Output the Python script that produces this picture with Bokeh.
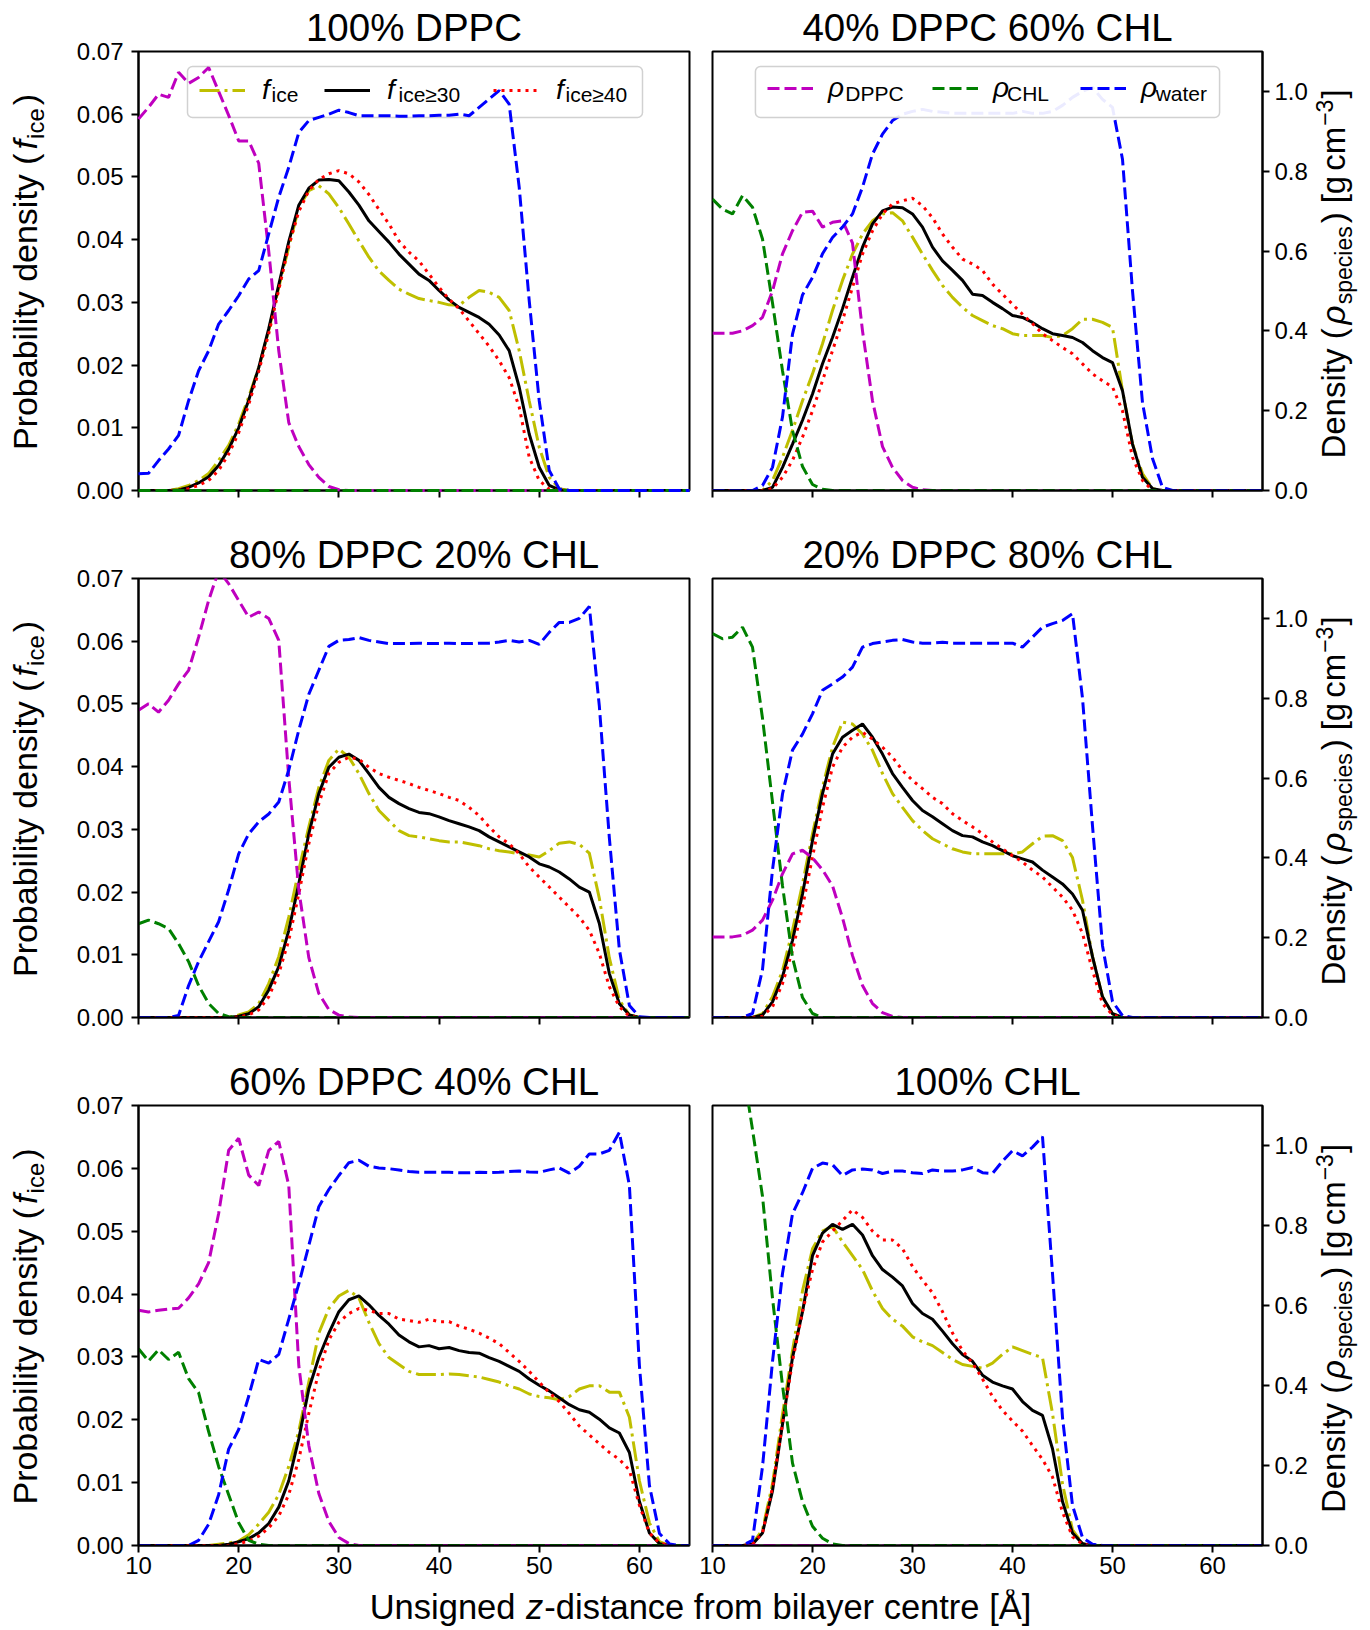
import math
from bokeh.plotting import figure
from bokeh.models import (Range1d, LinearAxis, FixedTicker, PrintfTickFormatter, Label,
                          BoxAnnotation, Legend, LegendItem, ColumnDataSource)
from bokeh.layouts import column, row
from bokeh.embed import file_html
from bokeh.resources import INLINE
from bokeh.core.properties import value

# ---------------------------------------------------------------- data
Z = list(range(10, 66))  # unsigned z-distance from bilayer centre [A]
X_TICKS = [10, 20, 30, 40, 50, 60]
F_TICKS = [0.0, 0.01, 0.02, 0.03, 0.04, 0.05, 0.06, 0.07]
RHO_TICKS = [0.0, 0.2, 0.4, 0.6, 0.8, 1.0]
TITLES = ["100% DPPC", "40% DPPC 60% CHL", "80% DPPC 20% CHL",
          "20% DPPC 80% CHL", "60% DPPC 40% CHL", "100% CHL"]

# ---- 100% DPPC
P1_FICE = [0, 0, 0, 0, .0003, .0008, .0016, .0027, .0048, .0072,
           .0106, .0149, .0196, .0255, .0324, .0388, .0451, .0478, .0486, .0473,
           .0451, .0425, .0398, .0372, .035, .0335, .0321, .0313, .0306, .0303,
           .03, .0296, .0295, .0308, .0319, .0316, .0308, .0287, .0223, .0143,
           .0069, .0021, .0003, 0, 0, 0, 0, 0, 0, 0,
           0, 0, 0, 0, 0, 0]
P1_F30 = [0, 0, 0, 0, .0001, .0005, .0012, .0022, .004, .0066,
          .01, .0144, .0196, .0258, .0328, .0397, .0455, .0482, .0495, .0496,
          .0494, .0476, .0455, .043, .0413, .0396, .0377, .0361, .0345, .0335,
          .0319, .0304, .0292, .0284, .0276, .0265, .0248, .0223, .0165, .009,
          .0037, .0008, .0001, 0, 0, 0, 0, 0, 0, 0,
          0, 0, 0, 0, 0, 0]
P1_F40 = [0, 0, 0, 0, 0, .0003, .0008, .0016, .0032, .0058,
          .0092, .0137, .019, .025, .032, .039, .0445, .0478, .0496, .0505,
          .051, .0505, .0492, .0472, .0448, .0425, .0398, .038, .0366, .0345,
          .0324, .0305, .029, .027, .025, .023, .0207, .018, .0133, .0053,
          .0016, .0002, 0, 0, 0, 0, 0, 0, 0, 0,
          0, 0, 0, 0, 0, 0]
P1_DPPC = [.931, .96, .993, .985, 1.048, 1.02, 1.035, 1.06, 1.0, .94,
           .876, .876, .82, .60, .35, .17, .11, .065, .033, .01,
           .002, 0, 0, 0, 0, 0, 0, 0, 0, 0,
           0, 0, 0, 0, 0, 0, 0, 0, 0, 0,
           0, 0, 0, 0, 0, 0, 0, 0, 0, 0,
           0, 0, 0, 0, 0, 0]
P1_CHL = [0, 0, 0, 0, 0, 0, 0, 0, 0, 0,
          0, 0, 0, 0, 0, 0, 0, 0, 0, 0,
          0, 0, 0, 0, 0, 0, 0, 0, 0, 0,
          0, 0, 0, 0, 0, 0, 0, 0, 0, 0,
          0, 0, 0, 0, 0, 0, 0, 0, 0, 0,
          0, 0, 0, 0, 0, 0]
P1_WATER = [.042, .043, .075, .104, .138, .225, .30, .35, .417, .451,
            .488, .53, .551, .643, .735, .81, .897, .927, .935, .943,
            .953, .947, .939, .939, .939, .939, .938, .938, .939, .939,
            .94, .94, .943, .939, .96, .981, 1.002, .968, .76, .476,
            .225, .05, .004, 0, 0, 0, 0, 0, 0, 0,
            0, 0, 0, 0, 0, 0]

# ---- 40% DPPC 60% CHL
P2_FICE = [0, 0, 0, 0, 0, 0, .0016, .0053, .0096, .0143,
           .0186, .0234, .0287, .0335, .0377, .0409, .043, .0441, .0443, .043,
           .0404, .0377, .0351, .0327, .0308, .0292, .0279, .0271, .0263, .0258,
           .025, .0247, .0247, .0247, .0244, .0247, .0258, .0273, .0273, .0268,
           .026, .0159, .0074, .0027, .0003, 0, 0, 0, 0, 0,
           0, 0, 0, 0, 0, 0]
P2_F30 = [0, 0, 0, 0, 0, 0, .0005, .0037, .0074, .0112,
          .0154, .0202, .0244, .029, .034, .0388, .0425, .0446, .0452, .0451,
          .0441, .042, .0388, .0366, .0351, .0335, .0313, .0311, .03, .029,
          .0279, .0276, .0268, .0258, .025, .0247, .0244, .0236, .0223, .0212,
          .0204, .0159, .0074, .0021, .0003, 0, 0, 0, 0, 0,
          0, 0, 0, 0, 0, 0]
P2_F40 = [0, 0, 0, 0, 0, 0, .0003, .0021, .0048, .0085,
          .0127, .0175, .0223, .0271, .0324, .0377, .0414, .0441, .0457, .0462,
          .0466, .0454, .0435, .0409, .0388, .0369, .0361, .0351, .0329, .0313,
          .0297, .0281, .0266, .025, .0239, .0228, .0218, .0202, .0186, .0175,
          .0165, .0127, .0053, .0016, 0, 0, 0, 0, 0, 0,
          0, 0, 0, 0, 0, 0]
P2_DPPC = [.394, .394, .394, .40, .413, .434, .50, .593, .651, .697,
           .70, .66, .672, .676, .62, .40, .225, .11, .058, .025,
           .008, .002, 0, 0, 0, 0, 0, 0, 0, 0,
           0, 0, 0, 0, 0, 0, 0, 0, 0, 0,
           0, 0, 0, 0, 0, 0, 0, 0, 0, 0,
           0, 0, 0, 0, 0, 0]
P2_CHL = [.73, .705, .693, .739, .71, .63, .47, .30, .15, .06,
          .015, .003, 0, 0, 0, 0, 0, 0, 0, 0,
          0, 0, 0, 0, 0, 0, 0, 0, 0, 0,
          0, 0, 0, 0, 0, 0, 0, 0, 0, 0,
          0, 0, 0, 0, 0, 0, 0, 0, 0, 0,
          0, 0, 0, 0, 0, 0]
P2_WATER = [0, 0, 0, 0, 0, .0125, .058, .184, .392, .49,
            .534, .593, .634, .66, .693, .76, .843, .893, .927, .943,
            .95, .955, .95, .948, .945, .945, .945, .945, .945, .945,
            .945, .95, .945, .945, .95, .965, .985, 1.0, 1.01, .98,
            .96, .83, .50, .22, .08, .008, 0, 0, 0, 0,
            0, 0, 0, 0, 0, 0]

# ---- 80% DPPC 20% CHL
P3_FICE = [0, 0, 0, 0, 0, 0, 0, 0, 0, 0,
           .0004, .0009, .0022, .0054, .0097, .016, .0235, .0304, .0367, .041,
           .0428, .0415, .0389, .0357, .033, .0314, .0298, .029, .0288, .0285,
           .0282, .028, .028, .0277, .0274, .0269, .0266, .0264, .0261, .0259,
           .0256, .0266, .0278, .028, .0276, .0262, .019, .0095, .0028, .0004,
           0, 0, 0, 0, 0, 0]
P3_F30 = [0, 0, 0, 0, 0, 0, 0, 0, 0, 0,
          .0002, .0006, .0017, .0044, .0081, .0139, .0213, .0293, .0357, .0399,
          .0415, .042, .041, .0389, .0367, .0351, .0341, .0333, .0327, .0325,
          .032, .0314, .0309, .0304, .0298, .0288, .028, .0272, .0264, .0256,
          .0245, .024, .0232, .0221, .0208, .02, .015, .007, .0022, .0004,
          0, 0, 0, 0, 0, 0]
P3_F40 = [0, 0, 0, 0, 0, 0, 0, 0, 0, 0,
          .0001, .0004, .0012, .0033, .007, .0123, .0197, .0277, .0341, .0389,
          .0407, .0415, .0412, .0399, .0389, .0383, .0378, .0373, .0367, .0362,
          .0357, .0351, .0346, .0335, .0322, .0304, .0288, .0277, .0261, .024,
          .0224, .0208, .0192, .0176, .016, .0139, .0102, .0049, .0017, .0002,
          0, 0, 0, 0, 0, 0]
P3_DPPC = [.77, .786, .765, .795, .836, .87, .953, 1.045, 1.12, 1.087,
           1.045, 1.003, 1.016, 1.0, .945, .60, .32, .15, .06, .02,
           .006, .001, 0, 0, 0, 0, 0, 0, 0, 0,
           0, 0, 0, 0, 0, 0, 0, 0, 0, 0,
           0, 0, 0, 0, 0, 0, 0, 0, 0, 0,
           0, 0, 0, 0, 0, 0]
P3_CHL = [.235, .244, .235, .223, .185, .14, .08, .035, .01, .002,
          0, 0, 0, 0, 0, 0, 0, 0, 0, 0,
          0, 0, 0, 0, 0, 0, 0, 0, 0, 0,
          0, 0, 0, 0, 0, 0, 0, 0, 0, 0,
          0, 0, 0, 0, 0, 0, 0, 0, 0, 0,
          0, 0, 0, 0, 0, 0]
P3_WATER = [0, 0, 0, 0, .005, .08, .14, .19, .24, .32,
            .41, .46, .49, .51, .54, .62, .72, .81, .87, .93,
            .945, .947, .952, .945, .941, .937, .937, .937, .938, .937,
            .937, .938, .937, .937, .938, .938, .941, .945, .941, .945,
            .935, .965, .99, .99, 1.0, 1.03, .78, .45, .17, .03,
            .002, 0, 0, 0, 0, 0]

# ---- 20% DPPC 80% CHL
P4_FICE = [0, 0, 0, 0, 0, .0006, .0033, .0075, .0139, .0213,
           .0293, .0367, .0431, .0471, .0468, .0452, .0426, .0389, .0357, .0335,
           .0314, .0298, .0285, .0277, .0269, .0264, .0261, .0261, .0261, .0261,
           .0261, .0264, .0277, .0289, .029, .0282, .0255, .0187, .0097, .0033,
           .0006, 0, 0, 0, 0, 0, 0, 0, 0, 0,
           0, 0, 0, 0, 0, 0]
P4_F30 = [0, 0, 0, 0, 0, .0004, .0025, .0065, .0123, .0197,
          .0282, .0357, .042, .0447, .0458, .0468, .0447, .042, .0389, .0367,
          .0346, .033, .032, .0309, .0298, .029, .0288, .028, .0274, .0266,
          .0258, .0253, .0248, .0235, .0224, .0213, .0197, .0171, .0097, .0033,
          .0006, 0, 0, 0, 0, 0, 0, 0, 0, 0,
          0, 0, 0, 0, 0, 0]
P4_F40 = [0, 0, 0, 0, 0, .0002, .0017, .0054, .0107, .0176,
          .0256, .0335, .0399, .0431, .0447, .0455, .0444, .0431, .0415, .0394,
          .0378, .0365, .0351, .0341, .0325, .0314, .0304, .0293, .028, .0269,
          .0258, .0248, .0235, .0224, .0208, .0192, .0171, .0134, .0075, .0022,
          .0004, 0, 0, 0, 0, 0, 0, 0, 0, 0,
          0, 0, 0, 0, 0, 0]
P4_DPPC = [.202, .202, .202, .206, .219, .244, .294, .36, .41, .419,
           .40, .37, .33, .25, .155, .08, .035, .012, .003, 0,
           0, 0, 0, 0, 0, 0, 0, 0, 0, 0,
           0, 0, 0, 0, 0, 0, 0, 0, 0, 0,
           0, 0, 0, 0, 0, 0, 0, 0, 0, 0,
           0, 0, 0, 0, 0, 0]
P4_CHL = [.962, .949, .953, .978, .928, .75, .54, .33, .15, .05,
          .01, 0, 0, 0, 0, 0, 0, 0, 0, 0,
          0, 0, 0, 0, 0, 0, 0, 0, 0, 0,
          0, 0, 0, 0, 0, 0, 0, 0, 0, 0,
          0, 0, 0, 0, 0, 0, 0, 0, 0, 0,
          0, 0, 0, 0, 0, 0]
P4_WATER = [0, 0, 0, 0, .01, .12, .37, .56, .67, .71,
            .761, .82, .836, .853, .878, .928, .937, .941, .945, .947,
            .941, .938, .938, .94, .938, .938, .938, .938, .938, .938,
            .938, .928, .953, .978, .987, .995, 1.012, .80, .48, .18,
            .04, .005, 0, 0, 0, 0, 0, 0, 0, 0,
            0, 0, 0, 0, 0, 0]

# ---- 60% DPPC 40% CHL
P5_FICE = [0, 0, 0, 0, 0, 0, 0, 0, .0002, .0004,
           .0007, .0017, .0034, .0053, .0081, .0126, .0182, .026, .0338, .0377,
           .0397, .0406, .0394, .0355, .0321, .0299, .0288, .0277, .0272, .0272,
           .0272, .0273, .0272, .027, .0268, .0264, .026, .0254, .0249, .0241,
           .0237, .0235, .0232, .0237, .0249, .0254, .0254, .0244, .0244, .0204,
           .0103, .0036, .0006, 0, 0, 0]
P5_F30 = [0, 0, 0, 0, 0, 0, 0, 0, 0, .0002,
          .0006, .0011, .002, .0035, .0061, .0103, .017, .0249, .0299, .0338,
          .0372, .0391, .0397, .0383, .0366, .0352, .0335, .0324, .0316, .0318,
          .0313, .0315, .031, .0307, .0306, .0299, .0293, .0285, .0277, .0265,
          .0255, .0246, .0235, .0224, .0216, .0212, .0201, .0187, .0179, .0148,
          .007, .002, .0003, 0, 0, 0]
P5_F40 = [0, 0, 0, 0, 0, 0, 0, 0, 0, 0,
          .0003, .0007, .0015, .0028, .0047, .0081, .0137, .021, .0277, .0327,
          .0355, .0369, .0377, .0374, .0369, .0369, .036, .0358, .0355, .036,
          .0356, .0356, .0349, .0344, .0338, .033, .0321, .0307, .0293, .0277,
          .026, .0243, .0229, .021, .019, .0176, .0162, .0148, .0137, .012,
          .0064, .002, .0004, 0, 0, 0]
P5_DPPC = [.588, .584, .588, .591, .593, .619, .654, .707, .83, .988,
           1.018, .926, .90, .988, 1.01, .90, .45, .25, .13, .06,
           .02, .005, 0, 0, 0, 0, 0, 0, 0, 0,
           0, 0, 0, 0, 0, 0, 0, 0, 0, 0,
           0, 0, 0, 0, 0, 0, 0, 0, 0, 0,
           0, 0, 0, 0, 0, 0]
P5_CHL = [.492, .461, .489, .465, .483, .417, .382, .285, .197, .127,
          .057, .013, .003, 0, 0, 0, 0, 0, 0, 0,
          0, 0, 0, 0, 0, 0, 0, 0, 0, 0,
          0, 0, 0, 0, 0, 0, 0, 0, 0, 0,
          0, 0, 0, 0, 0, 0, 0, 0, 0, 0,
          0, 0, 0, 0, 0, 0]
P5_WATER = [0, 0, 0, 0, 0, 0, .013, .053, .127, .241,
            .29, .373, .465, .456, .478, .566, .654, .75, .847, .89,
            .925, .957, .963, .948, .944, .942, .939, .935, .933, .933,
            .933, .933, .932, .932, .933, .932, .933, .935, .936, .934,
            .933, .939, .944, .931, .948, .979, .979, .988, 1.033, .90,
            .45, .15, .03, .004, 0, 0]

# ---- 100% CHL
P6_FICE = [0, 0, 0, 0, .0003, .0025, .0098, .0209, .031, .0405,
           .0472, .05, .0508, .0483, .0461, .0439, .0405, .0377, .036, .0349,
           .0332, .0324, .0318, .0307, .0296, .0288, .0285, .0282, .029, .0304,
           .0316, .031, .0304, .0299, .021, .0098, .0025, .0003, 0, 0,
           0, 0, 0, 0, 0, 0, 0, 0, 0, 0,
           0, 0, 0, 0, 0, 0]
P6_F30 = [0, 0, 0, 0, .0002, .002, .0087, .0193, .0299, .0372,
          .0461, .0497, .0511, .0503, .0511, .0494, .0461, .0439, .0427, .0413,
          .0385, .0369, .036, .0341, .0321, .0304, .0293, .0271, .026, .0254,
          .0249, .0229, .0215, .0207, .0154, .007, .002, .0003, 0, 0,
          0, 0, 0, 0, 0, 0, 0, 0, 0, 0,
          0, 0, 0, 0, 0, 0]
P6_F40 = [0, 0, 0, 0, .0002, .002, .0092, .0193, .0293, .0372,
          .0439, .0483, .05, .0517, .0534, .0522, .05, .0486, .0486, .0472,
          .0444, .0422, .0402, .0372, .0338, .031, .029, .0265, .0237, .0215,
          .0198, .0182, .0159, .0137, .0109, .0053, .0014, .0002, 0, 0,
          0, 0, 0, 0, 0, 0, 0, 0, 0, 0,
          0, 0, 0, 0, 0, 0]
P6_DPPC = [0, 0, 0, 0, 0, 0, 0, 0, 0, 0,
           0, 0, 0, 0, 0, 0, 0, 0, 0, 0,
           0, 0, 0, 0, 0, 0, 0, 0, 0, 0,
           0, 0, 0, 0, 0, 0, 0, 0, 0, 0,
           0, 0, 0, 0, 0, 0, 0, 0, 0, 0,
           0, 0, 0, 0, 0, 0]
P6_CHL = [1.7, 1.55, 1.38, 1.2, 1.04, .873, .618, .40, .206, .11,
          .048, .018, .004, 0, 0, 0, 0, 0, 0, 0,
          0, 0, 0, 0, 0, 0, 0, 0, 0, 0,
          0, 0, 0, 0, 0, 0, 0, 0, 0, 0,
          0, 0, 0, 0, 0, 0, 0, 0, 0, 0,
          0, 0, 0, 0, 0, 0]
P6_WATER = [0, 0, 0, 0, .013, .197, .46, .68, .829, .882,
            .943, .956, .952, .925, .939, .941, .939, .93, .936, .936,
            .932, .93, .939, .936, .936, .939, .945, .932, .93, .961,
            .987, .974, .996, 1.022, .68, .32, .10, .02, .003, 0,
            0, 0, 0, 0, 0, 0, 0, 0, 0, 0,
            0, 0, 0, 0, 0, 0]

PANELS = [
    (TITLES[0], P1_FICE, P1_F30, P1_F40, P1_DPPC, P1_CHL, P1_WATER),
    (TITLES[1], P2_FICE, P2_F30, P2_F40, P2_DPPC, P2_CHL, P2_WATER),
    (TITLES[2], P3_FICE, P3_F30, P3_F40, P3_DPPC, P3_CHL, P3_WATER),
    (TITLES[3], P4_FICE, P4_F30, P4_F40, P4_DPPC, P4_CHL, P4_WATER),
    (TITLES[4], P5_FICE, P5_F30, P5_F40, P5_DPPC, P5_CHL, P5_WATER),
    (TITLES[5], P6_FICE, P6_F30, P6_F40, P6_DPPC, P6_CHL, P6_WATER),
]

# ---------------------------------------------------------------- layout / style
FONT = "Liberation Sans"
X0, X1, YMAX, RHOMAX = 10, 65, 0.07, 1.1
FW = 551
PAGE_W, PAGE_H = 1370, 1630
KB = 0.36  # baseline correction (fraction of font size)
YLAB_W, RLAB_X0 = 60, 1310
COLS = [dict(x0=60, cw=635, L=138), dict(x0=695, cw=615, L=712)]
ROWS = [dict(y0=0, ch=505, T=51, H=439),
        dict(y0=505, ch=527, T=578, H=439),
        dict(y0=1032, ch=557, T=1105, H=440)]
XLAB_Y0 = 1589

C_ICE, C_30, C_40 = "#bfbf00", "black", "red"
C_DPPC, C_CHL, C_WAT = "#bf00bf", "#008000", "#0000ff"

AW = {'P': 667, 'r': 333, 'o': 556, 'b': 556, 'a': 556, 'i': 222, 'l': 222, 't': 278,
      'y': 500, ' ': 278, 'd': 556, 'e': 556, 'n': 556, 's': 500, '(': 333, ')': 333,
      'c': 500, 'D': 722, 'p': 556, 'g': 556, 'm': 833, '\u2212': 584, ']': 278,
      '[': 278, 'U': 722, 'z': 500, '-': 333, 'f': 278, '\u00c5': 667, '3': 556,
      '\u03c1': 578}


def tw(s, size):
    return sum(AW[ch] for ch in s) * size / 1000.0


def add_text(p, x, y, text, size, style="normal", align="left", angle=0.0):
    p.add_layout(Label(x=x, y=y, text=text, text_font=FONT, text_font_size="%gpx" % size,
                       text_font_style=style, text_align=align, text_baseline="alphabetic",
                       angle=angle, text_color="black"))


def text_fig(x0, y0, w, h, ftop=None, fh=None):
    """A blank figure used only to hold text; its frame spans [ftop, ftop+fh] on the page."""
    if ftop is None:
        ftop, fh = y0, h
    f = figure(width=w, height=h, x_range=Range1d(0, w), y_range=Range1d(0, fh),
               output_backend="svg", toolbar_location=None, x_axis_location=None,
               y_axis_location=None, min_border=0, min_border_left=0, min_border_right=0,
               min_border_top=ftop - y0, min_border_bottom=y0 + h - ftop - fh)
    f.outline_line_color = None
    f.grid.visible = False
    f.background_fill_color = "white"
    f.border_fill_color = "white"

    def to_local(px, py):
        return px - x0, (ftop + fh) - py
    return f, to_local


def rotated_label(p, to_local, base_x, center_y, pieces):
    total = sum(tw(t, s) for t, s, _, _, _ in pieces) + sum(g for _, _, _, _, g in pieces[:-1])
    cur = center_y + total / 2.0
    for t, s, st, shift, gap in pieces:
        x, y = to_local(base_x + shift - KB * s, cur)
        add_text(p, x, y, t, s, st, angle=math.pi / 2)
        cur -= tw(t, s) + gap


def style_axis(ax, standoff):
    ax.axis_line_width = 2
    ax.axis_line_color = "black"
    ax.major_tick_line_width = 2
    ax.major_tick_line_color = "black"
    ax.major_tick_out = 7
    ax.major_tick_in = 0
    ax.minor_tick_line_color = None
    ax.major_label_text_font = FONT
    ax.major_label_text_font_size = "24px"
    ax.major_label_text_color = "black"
    ax.major_label_standoff = standoff


panel_figs = {}
for i, (title, fice, f30, f40, dppc, chl, water) in enumerate(PANELS):
    r, c = divmod(i, 2)
    C, R = COLS[c], ROWS[r]
    L, T, H = C["L"], R["T"], R["H"]
    p = figure(width=C["cw"], height=R["ch"], x_range=Range1d(X0, X1), y_range=Range1d(0, YMAX),
               output_backend="svg", toolbar_location=None,
               y_axis_location="left" if c == 0 else None,
               min_border_left=L - C["x0"], min_border_right=C["x0"] + C["cw"] - L - FW,
               min_border_top=T - R["y0"], min_border_bottom=R["y0"] + R["ch"] - T - H)
    p.title.text = title
    p.title.align = "center"
    p.title.text_font = FONT
    p.title.text_font_size = "38.5px"
    p.title.text_font_style = "normal"
    p.title.text_color = "black"
    p.title.standoff = 5
    p.extra_y_ranges = {"rho": Range1d(0, RHOMAX)}
    p.grid.visible = False
    p.outline_line_color = "black"
    p.outline_line_width = 2
    p.outline_line_alpha = 1.0
    p.background_fill_color = "white"
    p.border_fill_color = "white"

    def to_data(px, py, L=L, T=T, H=H):
        return X0 + (px - L) * (X1 - X0) / FW, YMAX * (T + H - py) / H

    xa = p.xaxis[0]
    style_axis(xa, 4)
    xa.ticker = FixedTicker(ticks=X_TICKS)
    xa.formatter = PrintfTickFormatter(format="%d")
    if r < 2:
        xa.major_label_overrides = {t: "" for t in X_TICKS}
        xa.major_label_text_font_size = "0px"
    if c == 0:
        ya = p.yaxis[0]
        style_axis(ya, 8)
        ya.ticker = FixedTicker(ticks=F_TICKS)
        ya.formatter = PrintfTickFormatter(format="%.2f")
    else:
        ra = LinearAxis(y_range_name="rho", ticker=FixedTicker(ticks=RHO_TICKS),
                        formatter=PrintfTickFormatter(format="%.1f"))
        style_axis(ra, 5)
        p.add_layout(ra, "right")

    src = ColumnDataSource(dict(z=Z, fice=fice, f30=f30, f40=f40, dppc=dppc, chl=chl, water=water))
    r_ice = p.line("z", "fice", source=src, line_color=C_ICE, line_width=3, line_dash="20 5 3 5")
    r_30 = p.line("z", "f30", source=src, line_color=C_30, line_width=3)
    r_40 = p.line("z", "f40", source=src, line_color=C_40, line_width=3, line_dash="3 5")
    lvl = "overlay" if i == 0 else "glyph"
    r_dppc = p.line("z", "dppc", source=src, y_range_name="rho", line_color=C_DPPC,
                    line_width=3, line_dash="12 5", level=lvl)
    r_chl = p.line("z", "chl", source=src, y_range_name="rho", line_color=C_CHL,
                   line_width=3, line_dash="12 5", level=lvl)
    r_wat = p.line("z", "water", source=src, y_range_name="rho", line_color=C_WAT,
                   line_width=3, line_dash="12 5", level=lvl)

    if i in (0, 1):
        if i == 0:
            box = (187, 642, 66, 117)
            items = [(r_ice, 199, "ice", 271), (r_30, 324, "ice\u226530", 398),
                     (r_40, 493, "ice\u226540", 565)]
            main, std, line_y, sub_y, alpha = "f", 17, 90, 102, 0.8
        else:
            box = (755, 1220, 66, 117)
            items = [(r_dppc, 767, "DPPC", 845), (r_chl, 932, "CHL", 1007),
                     (r_wat, 1080, "water", 1156)]
            main, std, line_y, sub_y, alpha = "\u03c1", 15, 88, 101, 0.92
        bl, bt = to_data(box[0], box[2])
        br, bb = to_data(box[1], box[3])
        p.add_layout(BoxAnnotation(left=bl, right=br, top=bt, bottom=bb, fill_color="white",
                                   fill_alpha=alpha, line_color="#cccccc", line_alpha=0.9,
                                   line_width=1.5, line_dash="solid", border_radius=5))
        for rend, gx, sub, sx in items:
            lg = Legend(items=[LegendItem(label=value(main), renderers=[rend])],
                        location=(gx - L, T + H - line_y - 16), orientation="horizontal",
                        glyph_width=46, glyph_height=20, label_width=0,
                        label_standoff=std, padding=0, margin=0, spacing=0,
                        border_line_color=None, background_fill_alpha=0,
                        label_text_font=FONT, label_text_font_style="italic",
                        label_text_font_size="28px", label_text_color="black")
            p.add_layout(lg)
            x, y = to_data(sx, sub_y - KB * 21)
            add_text(p, x, y, sub, 21)
    panel_figs[(r, c)] = p

rows_out = []
for r, R in enumerate(ROWS):
    # left y label (frame aligned with the panel frame)
    lf, ll = text_fig(0, R["y0"], YLAB_W, R["ch"], R["T"], R["H"])
    rotated_label(lf, ll, 37, R["T"] + R["H"] / 2.0 + 1, [
        ("Probability density (", 34, "normal", 0, 4),
        ("f", 34, "italic", 0, 1),
        ("ice", 24, "normal", 7, 3),
        (")", 34, "normal", 0, 0)])
    # right y label
    rf, rl = text_fig(RLAB_X0, R["y0"], PAGE_W - RLAB_X0, R["ch"], R["T"], R["H"])
    rotated_label(rf, rl, 1345, R["T"] + R["H"] / 2.0 + 3, [
        ("Density (", 33, "normal", 0, 4),
        ("\u03c1", 33, "italic", 0, 1),
        ("species", 23, "normal", 7, 3),
        (")", 33, "normal", 0, 9),
        ("[g", 33, "normal", 0, 5),
        ("cm", 33, "normal", 0, 1),
        ("\u22123", 23, "normal", -13, 1),
        ("]", 33, "normal", 0, 0)])
    rows_out.append(row(lf, panel_figs[(r, 0)], panel_figs[(r, 1)], rf))

# shared x-axis label
xf, xlc = text_fig(0, XLAB_Y0, PAGE_W, PAGE_H - XLAB_Y0)
pieces = [("Unsigned", 34.5, "normal", 10.6), ("z", 34.5, "italic", 1),
          ("-distance from bilayer centre [\u00c5]", 34.5, "normal", 0)]
total = sum(tw(t, s) + g for t, s, _, g in pieces)
cx = 700 - total / 2.0
for t, s, st, g in pieces:
    x, y = xlc(cx, 1619 - KB * s)
    add_text(xf, x, y, t, s, st)
    cx += tw(t, s) + g
rows_out.append(xf)

layout = column(*rows_out)
open("out.html", "w").write(file_html(layout, INLINE))
